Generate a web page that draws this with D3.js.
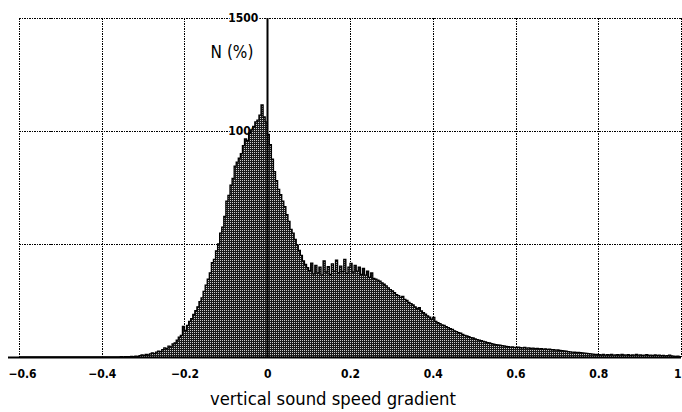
<!DOCTYPE html>
<html>
<head>
<meta charset="utf-8">
<script src="https://cdn.jsdelivr.net/npm/d3@7"></script>
<style>
  html, body { margin: 0; padding: 0; background: #fff; }
  svg { display: block; }
</style>
</head>
<body>
<svg id="chart" width="682" height="412"></svg>
<script>
// ---- data ----
const xTicks = [-0.6, -0.4, -0.2, 0, 0.2, 0.4, 0.6, 0.8, 1];
const xTickLabels = ["\u22120.6", "\u22120.4", "\u22120.2", "0", "0.2", "0.4", "0.6", "0.8", "1"];
const yTicks = [500, 1000, 1500];
const yTickLabels = ["500", "1000", "1500"];
const binStart = -0.6;
const binWidth = 0.005;
// counts per bin (bin i covers [binStart + i*binWidth, binStart + (i+1)*binWidth))
const counts = [
  0,0,0,0,0,0,0,0,0,0, 0,0,0,0,0,0,0,0,0,0,
  0,0,0,0,0,0,0,0,0,0, 0,0,0,0,0,0,0,0,0,0,
  0,0,0,0,0,0,0,0,0,1, 0,1,2,1,3,2,4,3,6,9,
  7,11,9,14,18,15,22,26,24,33, 40,37,48,45,58,62,75,88,96,135,
  118,140,158,170,188,205,222,245,262,290, 318,345,372,418,432,470,500,548,575,622,
  690,715,760,790,845,862,880,900,935,965, 958,990,1005,1020,1040,1048,1070,1115,1062,1040,
  985,940,875,820,780,742,718,690,665,630, 600,565,548,520,495,472,450,425,410,395,
  382,415,368,405,372,398,362,425,376,400, 366,412,380,428,372,402,378,432,370,398,
  414,376,405,380,398,366,392,362,380,352, 372,348,345,340,336,328,322,315,306,298,
  292,285,276,272,264,268,255,250,242,236, 230,222,214,218,204,196,190,182,176,168,
  175,158,152,148,142,140,134,130,125,122, 116,112,108,105,100,96,93,90,86,84,
  80,77,75,72,69,67,64,62,59,57, 55,53,52,50,49,47,46,44,45,43,
  42,44,41,40,42,39,40,38,39,37, 38,36,37,35,36,34,35,33,32,30,
  31,29,28,27,26,24,23,22,21,20, 20,19,18,17,16,15,14,13,12,11,
  10,9,11,8,10,9,12,8,9,10, 8,11,9,8,10,7,9,8,12,8,
  9,7,8,10,7,8,6,9,7,8, 6,7,5,6,8,5,4,3,4,2
];
const xTitle = "vertical sound speed gradient";
const yTitle = "N (%)";

// ---- layout ----
const svg = d3.select("#chart");
const x = d3.scaleLinear().domain([-0.6, 1]).range([19, 681]);
const y = d3.scaleLinear().domain([0, 1500]).range([357, 18]);

const defs = svg.append("defs");
const pat = defs.append("pattern").attr("id", "dots")
  .attr("width", 2).attr("height", 2).attr("patternUnits", "userSpaceOnUse");
pat.append("rect").attr("width", 2).attr("height", 2).attr("fill", "#1a1a1a");
pat.append("rect").attr("width", 1).attr("height", 1).attr("fill", "#cfcfcf");

// grid
const grid = svg.append("g").attr("stroke", "#000").attr("stroke-width", 1)
  .attr("stroke-dasharray", "1.5,1").attr("fill", "none").attr("shape-rendering", "crispEdges");
grid.selectAll("line.v").data(xTicks.filter(d => d !== 0)).join("line")
  .attr("class", "v")
  .attr("x1", d => Math.round(x(d)) + 0.5).attr("x2", d => Math.round(x(d)) + 0.5)
  .attr("y1", y(1500)).attr("y2", y(0));
grid.selectAll("line.h").data(yTicks).join("line")
  .attr("class", "h")
  .attr("x1", x(-0.6)).attr("x2", x(1))
  .attr("y1", d => Math.round(y(d)) + 0.5).attr("y2", d => Math.round(y(d)) + 0.5);

// y tick labels (drawn beneath the histogram)
const labelFont = "'Liberation Sans Narrow', 'DejaVu Sans Condensed', 'Liberation Sans', sans-serif";
const yAxis = d3.axisLeft(y).tickValues(yTicks).tickSize(0).tickPadding(0)
  .tickFormat((d, i) => yTickLabels[i]);
const yg = svg.append("g").attr("transform", `translate(${x(0) - 9},0)`).call(yAxis);
yg.select(".domain").remove();
yg.selectAll("text")
  .attr("font-family", labelFont).attr("font-weight", "bold").attr("font-size", 12)
  .attr("fill", "#000")
  .attr("stroke", "#fff").attr("stroke-width", 3).attr("paint-order", "stroke");

// histogram
const pts = counts.map((c, i) => ({ x0: binStart + i * binWidth, c }));
pts.push({ x0: binStart + counts.length * binWidth, c: counts[counts.length - 1] });
const area = d3.area().curve(d3.curveStepAfter)
  .x(d => x(d.x0)).y0(y(0)).y1(d => y(d.c));
svg.append("path").datum(pts).attr("d", area).attr("fill", "url(#dots)");
const line = d3.line().curve(d3.curveStepAfter).x(d => x(d.x0)).y(d => y(d.c));
svg.append("path").datum(pts).attr("d", line)
  .attr("fill", "none").attr("stroke", "#000").attr("stroke-width", 1.3);

// axes lines
svg.append("line").attr("x1", 8).attr("x2", 681).attr("y1", y(0) + 0.5).attr("y2", y(0) + 0.5)
  .attr("stroke", "#000").attr("stroke-width", 2);
svg.append("line").attr("x1", Math.round(x(0)) + 0.5).attr("x2", Math.round(x(0)) + 0.5)
  .attr("y1", y(1500)).attr("y2", y(0))
  .attr("stroke", "#000").attr("stroke-width", 2);

// x tick labels
const xAxis = d3.axisBottom(x).tickValues(xTicks).tickSize(0).tickPadding(12)
  .tickFormat((d, i) => xTickLabels[i]);
const xg = svg.append("g").attr("transform", `translate(0,${y(0)})`).call(xAxis);
xg.select(".domain").remove();
xg.selectAll("text")
  .attr("font-family", labelFont).attr("font-weight", "bold").attr("font-size", 12)
  .attr("fill", "#000");
xg.selectAll(".tick").filter(d => d === 1).select("text").attr("text-anchor", "end").attr("dx", 0);
xg.selectAll(".tick").filter(d => d === -0.6).select("text").attr("dx", 3);

// titles
svg.append("text").attr("x", 232).attr("y", 58).attr("text-anchor", "middle")
  .attr("font-family", labelFont).attr("font-size", 17).attr("fill", "#000")
  .text(yTitle);
svg.append("text").attr("x", 333).attr("y", 405).attr("text-anchor", "middle")
  .attr("font-family", labelFont).attr("font-size", 17).attr("fill", "#000")
  .attr("textLength", 246).attr("lengthAdjust", "spacingAndGlyphs")
  .text(xTitle);
</script>
</body>
</html>
